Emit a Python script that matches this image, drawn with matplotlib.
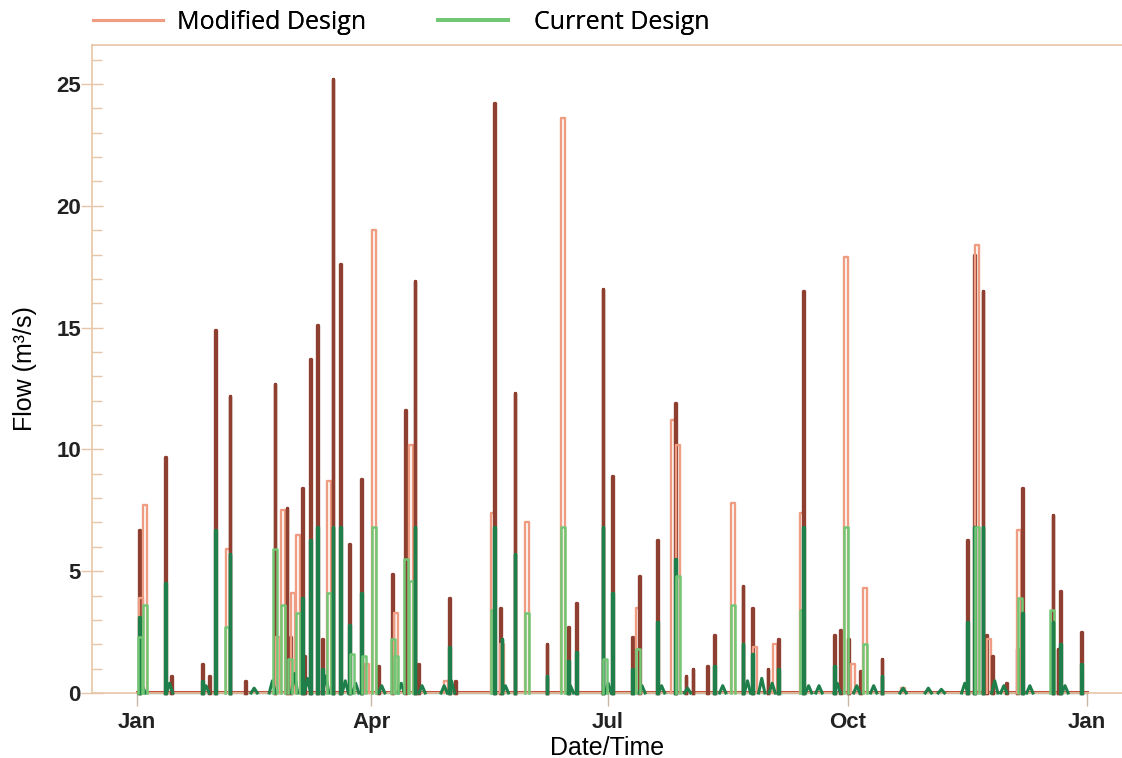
import matplotlib
matplotlib.use("Agg")
import matplotlib.pyplot as plt
import matplotlib.dates as mdates
from matplotlib.lines import Line2D
import pandas as pd

# day of year (from 1 Jan), peak flow (m3/s), wide pulse?
mod_days = [0.8, 1.5, 3.1, 11.1, 13.1, 25.0, 28.0, 30.0, 35.0, 35.7, 41.5,
            53.0, 54.2, 56.1, 57.6, 58.8, 59.9, 61.9, 63.4, 64.5, 66.8, 69.5,
            71.1, 73.8, 75.3, 78.0, 81.8, 86.4, 88.4, 91.0, 92.6, 98.3, 99.5,
            103.3, 105.3, 106.8, 108.0, 118.7, 119.9, 122.2, 136.8, 137.2,
            139.5, 140.2, 145.2, 149.8, 157.5, 163.7, 165.6, 168.7, 179.0,
            182.5, 190.2, 192.5, 193.2, 199.8, 205.9, 206.7, 207.8, 210.9,
            213.6, 219.0, 221.7, 229.0, 232.8, 236.6, 237.4, 242.4, 245.1,
            246.6, 255.5, 255.9, 267.8, 270.1, 272.4, 273.5, 275.1, 277.8,
            279.7, 286.2, 294.3, 319.2, 321.6, 322.7, 325.0, 326.5, 327.3,
            328.8, 334.2, 338.1, 338.8, 340.0, 351.9, 353.8, 354.6, 363.0]
mod_peaks = [6.7, 3.9, 7.7, 9.7, 0.7, 1.2, 0.7, 14.9, 5.9, 12.2, 0.5,
             12.7, 2.3, 7.5, 7.6, 2.3, 4.1, 6.5, 8.4, 1.5, 13.7, 15.1,
             2.2, 8.7, 25.2, 17.6, 6.1, 8.8, 1.2, 19.0, 1.1, 4.9, 3.3,
             11.6, 10.2, 16.9, 1.2, 0.5, 3.9, 0.5, 7.4, 24.2,
             3.5, 2.0, 12.3, 7.0, 2.0, 23.6, 2.7, 3.7, 16.6,
             8.9, 2.3, 3.5, 4.8, 6.3, 11.2, 11.9, 10.2, 0.7,
             1.0, 1.1, 2.4, 7.8, 4.4, 3.5, 1.9, 1.0, 2.0,
             2.2, 7.4, 16.5, 2.4, 2.6, 17.9, 2.2, 1.2, 0.9,
             4.3, 1.4, 0.2, 6.3, 18.0, 18.4, 16.5, 2.4, 2.2,
             1.5, 0.4, 1.8, 6.7, 8.4, 7.3, 1.8, 4.2, 2.5]
mod_wide = [0, 1, 1, 0, 0, 0, 0, 0, 1, 0, 0,
            0, 1, 1, 0, 0, 1, 1, 0, 0, 0, 0,
            0, 1, 0, 0, 0, 0, 1, 1, 0, 0, 1,
            0, 1, 0, 0, 1, 0, 0, 1, 0,
            0, 1, 0, 1, 0, 1, 0, 0, 0,
            0, 0, 1, 0, 0, 1, 0, 1, 0,
            0, 0, 0, 1, 0, 0, 1, 0, 1,
            0, 1, 0, 0, 0, 1, 0, 1, 0,
            1, 0, 1, 0, 0, 1, 0, 0, 1,
            0, 0, 0, 1, 0, 0, 0, 0, 0]

cur_days = [0.8, 1.2, 3.1, 11.1, 25.0, 30.0, 34.6, 35.7, 53.0, 56.1, 58.8,
            61.9, 63.4, 66.8, 69.5, 71.1, 73.8, 75.3, 78.0, 81.8, 82.6, 86.4,
            87.2, 91.0, 98.3, 99.5, 103.3, 105.3, 106.8, 119.9, 136.8, 137.2,
            140.2, 145.2, 149.8, 157.5, 163.7, 165.6, 168.7, 179.0, 179.8,
            182.5, 190.2, 192.5, 199.8, 206.7, 207.8, 221.7, 229.0, 232.8,
            236.6, 246.6, 255.5, 255.9, 267.8, 272.4, 279.7, 286.2, 319.2,
            321.6, 322.7, 325.0, 339.2, 340.0, 351.5, 351.9, 354.6, 363.0]
cur_peaks = [3.1, 2.3, 3.6, 4.5, 0.5, 6.7, 2.7, 5.7, 5.9, 3.6, 1.4,
             3.3, 3.9, 6.3, 6.8, 1.0, 4.1, 6.8, 6.8, 2.8, 1.6, 4.1,
             1.5, 6.8, 2.2, 1.5, 5.5, 4.6, 6.8, 1.9, 3.4, 6.8,
             2.2, 5.7, 3.3, 0.7, 6.8, 1.3, 1.7, 6.8, 1.4,
             4.1, 1.0, 1.8, 2.9, 5.5, 4.8, 1.1, 3.6, 2.0,
             1.6, 1.0, 3.4, 6.8, 1.1, 6.8, 2.0, 0.7, 2.9,
             6.8, 6.8, 6.8, 3.9, 3.3, 3.4, 2.9, 2.0, 1.2]
cur_wide = [0, 1, 1, 0, 0, 0, 1, 0, 1, 1, 1,
            1, 0, 0, 0, 0, 1, 0, 0, 0, 1, 0,
            1, 1, 1, 1, 1, 1, 0, 0, 1, 0,
            0, 0, 1, 0, 1, 0, 0, 0, 1,
            0, 0, 1, 0, 0, 1, 0, 1, 0,
            0, 0, 1, 0, 0, 1, 1, 0, 0,
            0, 1, 0, 1, 0, 1, 0, 0, 0]

# low background flow humps in the current design (day, peak)
hump_days = [2.0, 12.5, 26.5, 45.0, 52.0, 60.5, 65.5, 72.5, 80.0, 84.0, 94.0,
             101.5, 109.5, 118.0, 120.8, 141.5, 166.5, 181.0, 194.0, 201.5,
             211.5, 225.0, 234.5, 240.0, 244.0, 258.0, 262.0, 269.0, 276.5,
             283.0, 294.3, 304.0, 309.0, 318.0, 329.5, 333.0, 343.0, 356.5]
hump_peaks = [0.3, 0.4, 0.3, 0.2, 0.5, 0.8, 0.6, 0.7, 0.5, 0.4, 0.3,
              0.4, 0.3, 0.3, 0.5, 0.3, 0.3, 0.4, 0.3, 0.3,
              0.2, 0.3, 0.5, 0.6, 0.4, 0.3, 0.3, 0.4, 0.3,
              0.3, 0.2, 0.2, 0.15, 0.4, 0.5, 0.3, 0.3, 0.3]

legend_labels = ["Modified Design", "Current Design"]

START = pd.Timestamp("2019-01-01")
YEAR_DAYS = 365

MOD_DARK = "#8e3f30"
MOD_LIGHT = "#ef9d82"
CUR_DARK = "#1f7f4b"
CUR_LIGHT = "#72c774"
AXIS_COL = "#e6c6a6"


def to_date(day):
    return START + pd.Timedelta(days=day)


def pulse(day, peak, width):
    xs = [to_date(day - width / 2), to_date(day - width / 2),
          to_date(day + width / 2), to_date(day + width / 2)]
    return xs, [0, peak, peak, 0]


def hump(day, peak, width):
    xs = [to_date(day - width / 2), to_date(day), to_date(day + width / 2)]
    return xs, [0, peak, 0]


fig = plt.figure(figsize=(11.22, 7.58), dpi=100)
ax = fig.add_axes([92 / 1122, 1 - 693 / 758, 1 - 92 / 1122, (693 - 45) / 758])

# baselines
ax.plot([to_date(0), to_date(YEAR_DAYS)], [0.05, 0.05], color="#c0523f", linewidth=2.2, zorder=2)
ax.plot([to_date(0), to_date(YEAR_DAYS)], [0, 0], color=CUR_DARK, linewidth=1.0, zorder=2, alpha=0.5)

for d, p, w in zip(mod_days, mod_peaks, mod_wide):
    if w:
        xs, ys = pulse(d, p, 1.6)
        ax.plot(xs, ys, color=MOD_LIGHT, linewidth=1.7, zorder=3)
    else:
        xs, ys = pulse(d, p, 0.35)
        ax.plot(xs, ys, color=MOD_DARK, linewidth=2.4, zorder=3)

for d, p in zip(hump_days, hump_peaks):
    xs, ys = hump(d, p, 2.4)
    ax.plot(xs, ys, color=CUR_DARK, linewidth=2.2, zorder=4)

for d, p, w in zip(cur_days, cur_peaks, cur_wide):
    if w:
        xs, ys = pulse(d, p, 1.6)
        ax.plot(xs, ys, color=CUR_LIGHT, linewidth=1.8, zorder=5)
    else:
        xs, ys = pulse(d, p, 0.35)
        ax.plot(xs, ys, color=CUR_DARK, linewidth=2.4, zorder=5)

for line in ax.lines:
    line.set_clip_on(False)

ax.set_xlim(to_date(-17.3), to_date(378.4))
ax.set_ylim(0, 26.6)

ax.xaxis.set_major_locator(mdates.MonthLocator(bymonth=[1, 4, 7, 10]))
ax.xaxis.set_major_formatter(mdates.DateFormatter("%b"))
ax.set_yticks([0, 5, 10, 15, 20, 25])
ax.set_yticks(range(0, 27), minor=True)

for side in ["left", "top", "bottom"]:
    ax.spines[side].set_color(AXIS_COL)
    ax.spines[side].set_linewidth(1.2)
ax.spines["right"].set_visible(False)

ax.tick_params(axis="y", which="major", direction="inout", length=16, width=1,
               color=AXIS_COL, pad=0)
ax.tick_params(axis="y", which="minor", direction="in", length=7, width=1, color=AXIS_COL)
ax.tick_params(axis="x", which="major", direction="out", length=9, width=1,
               color="#c8b8a8", pad=5)
for lbl in ax.get_yticklabels() + ax.get_xticklabels():
    lbl.set_fontfamily("Liberation Sans")
    lbl.set_fontweight("bold")
    lbl.set_fontsize(16)
    lbl.set_color("#222222")

ax.set_ylabel("Flow (m³/s)", fontfamily="Liberation Sans", fontsize=18, labelpad=14)
ax.set_xlabel("Date/Time", fontfamily="Liberation Sans", fontsize=18, labelpad=2)

# two separate legend entries, placed like the original header
legend_specs = [(MOD_LIGHT, 2.2, 93, 0.55), (CUR_LIGHT, 2.8, 438, 1.05)]
for label, (col, lw, x0, textpad) in zip(legend_labels, legend_specs):
    leg = fig.legend([Line2D([], [], color=col, linewidth=lw)], [label],
                     loc="upper left", bbox_to_anchor=(x0 / 1122, 1 - 10 / 758),
                     frameon=False, prop={"family": "Open Sans", "size": 18},
                     handlelength=2.8, handletextpad=textpad, borderpad=0,
                     borderaxespad=0)
    fig.add_artist(leg)

fig.savefig("out.png", dpi=100)
